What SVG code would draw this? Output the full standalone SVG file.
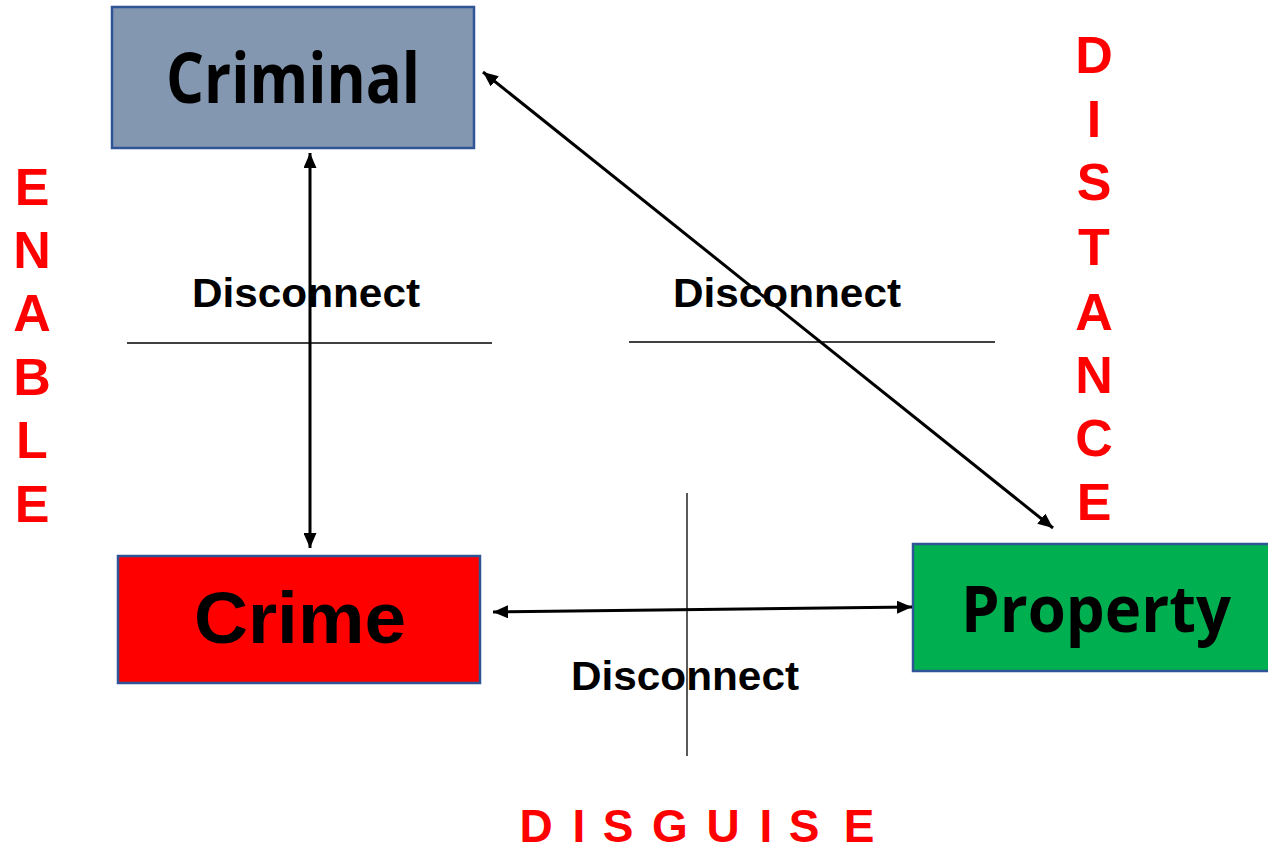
<svg xmlns="http://www.w3.org/2000/svg" width="1268" height="852" viewBox="0 0 1268 852">
<style>
.box{stroke:#2F5597;stroke-width:2.5}
.lbl{font-family:"Open Sans","Noto Sans",sans-serif;font-weight:bold;fill:#000}
.crime{font-family:"Liberation Sans",Arial,sans-serif;font-weight:bold;fill:#000}
.dis{font-family:"Liberation Sans",Arial,sans-serif;font-weight:bold;font-size:40px;fill:#000}
.red{font-family:"Liberation Sans",Arial,sans-serif;font-weight:bold;fill:#FF0000;text-anchor:middle}
.conn{stroke:#000;stroke-width:3;fill:none}
.thin{stroke:#000;stroke-width:1.3;fill:none}
</style>
<defs>
<marker id="ah" viewBox="0 0 15 13" refX="15" refY="6.5" markerWidth="15" markerHeight="13" markerUnits="userSpaceOnUse" orient="auto-start-reverse">
<path d="M0,0 L15,6.5 L0,13 z" fill="#000"/>
</marker>
</defs>
<rect width="1268" height="852" fill="#fff"/>
<g id="criminal">
<rect class="box" x="112" y="7" width="362" height="141" fill="#8497B0"/>
<text class="lbl" x="166" y="103" font-size="70" textLength="254" lengthAdjust="spacingAndGlyphs">Criminal</text>
</g>
<g id="crime">
<rect class="box" x="118" y="556" width="362" height="127" fill="#FF0000"/>
<text class="crime" x="194" y="643" font-size="73" textLength="212" lengthAdjust="spacingAndGlyphs">Crime</text>
</g>
<g id="property">
<rect class="box" x="913" y="544" width="372" height="127" fill="#00B050"/>
<text class="lbl" x="961" y="632" font-size="64" textLength="270" lengthAdjust="spacingAndGlyphs">Property</text>
</g>
<g id="connectors">
<line class="conn" x1="310" y1="153" x2="310" y2="548" marker-start="url(#ah)" marker-end="url(#ah)"/>
<line class="conn" x1="483" y1="72" x2="1053" y2="528" marker-start="url(#ah)" marker-end="url(#ah)"/>
<line class="conn" x1="493" y1="612" x2="912" y2="607" marker-start="url(#ah)" marker-end="url(#ah)"/>
</g>
<g id="dividers">
<line class="thin" x1="127" y1="343" x2="492" y2="343"/>
<line class="thin" x1="629" y1="342" x2="995" y2="342"/>
<line class="thin" x1="687" y1="493" x2="687" y2="756"/>
</g>
<g id="labels">
<text class="dis" x="192" y="307" textLength="228" lengthAdjust="spacingAndGlyphs">Disconnect</text>
<text class="dis" x="673" y="307" textLength="228" lengthAdjust="spacingAndGlyphs">Disconnect</text>
<text class="dis" x="571" y="690" textLength="228" lengthAdjust="spacingAndGlyphs">Disconnect</text>
</g>
<g id="enable" class="red" font-size="52">
<text x="32" y="205">E</text>
<text x="32" y="268">N</text>
<text x="32" y="331">A</text>
<text x="32" y="395">B</text>
<text x="32" y="458">L</text>
<text x="32" y="522">E</text>
</g>
<g id="distance" class="red" font-size="52">
<text x="1094" y="73">D</text>
<text x="1094" y="137">I</text>
<text x="1094" y="200">S</text>
<text x="1094" y="265">T</text>
<text x="1094" y="330">A</text>
<text x="1094" y="393">N</text>
<text x="1094" y="456">C</text>
<text x="1094" y="520">E</text>
</g>
<g id="disguise" class="red" font-size="46">
<text x="536" y="842">D</text>
<text x="579" y="842">I</text>
<text x="618" y="842">S</text>
<text x="670" y="842">G</text>
<text x="723" y="842">U</text>
<text x="766" y="842">I</text>
<text x="804" y="842">S</text>
<text x="859" y="842">E</text>
</g>
</svg>
